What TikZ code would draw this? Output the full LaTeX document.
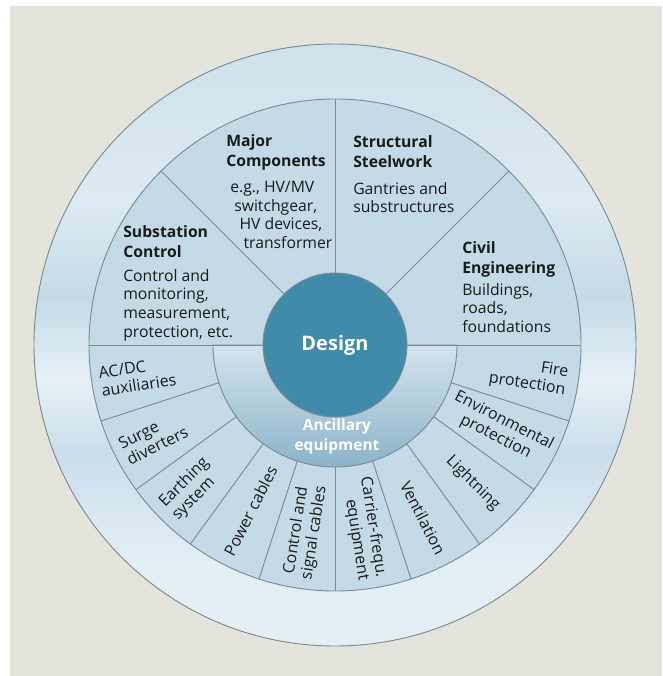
\documentclass[tikz,border=0pt]{standalone}
\usepackage{fontspec}
\setmainfont{Open Sans}
\usetikzlibrary{positioning}

\definecolor{bggray}{HTML}{E4E3DC}
\definecolor{rimgray}{HTML}{7E8B93}
\definecolor{inkblack}{HTML}{1A1A1A}
\definecolor{designblue}{HTML}{408BAA}
\definecolor{secdark}{HTML}{C4DBE7}
\definecolor{seclight}{HTML}{E6F0F6}
\definecolor{ancA}{HTML}{D4E4ED}
\definecolor{ancB}{HTML}{A2C3D5}
\definecolor{ancC}{HTML}{8BB3C9}
\definecolor{ringA}{HTML}{E4EFF5}
\definecolor{ringB}{HTML}{E3EEF5}
\definecolor{ringC}{HTML}{C9DEEA}
\definecolor{ringD}{HTML}{E6F0F6}
\definecolor{ringE}{HTML}{C4DBE7}
\definecolor{ringF}{HTML}{DDEAF2}
\definecolor{ringG}{HTML}{CFE1EB}

% outer ring: banded vertical shading (path spans 25bp..75bp)
\pgfdeclareverticalshading{outershade}{100bp}{%
  color(0bp)=(ringA); color(25bp)=(ringA); color(32bp)=(ringB);
  color(41bp)=(ringC); color(47bp)=(ringD); color(54bp)=(ringE);
  color(62bp)=(ringF); color(75bp)=(ringG); color(100bp)=(ringG)}

\newcommand{\hdfont}{\fontsize{11.8}{15}\selectfont\bfseries}
\newcommand{\bdfont}{\fontsize{11.8}{14}\selectfont}
\newcommand{\sgfont}{\fontsize{12}{13.6}\selectfont}

\begin{document}
\begin{tikzpicture}[
  x=0.75pt, y=0.75pt,
  rim/.style={draw=rimgray, line width=0.7pt},
  head/.style={anchor=north west, inner sep=0pt, align=left, font=\hdfont, text=inkblack},
  body/.style={anchor=north west, inner sep=0pt, align=left, font=\bdfont, text=inkblack},
  seglabel/.style={inner sep=0pt, font=\sgfont, text=inkblack}
]
\useasboundingbox (-335,-331) rectangle (327,345);
\fill[white] (-335,-331) rectangle (327,345);
\fill[bggray] (-325,-331) rectangle (327,339);

% rings
\shadedraw[rim, shading=outershade] (0,0) circle (301);
\draw[rim, top color=secdark, middle color=seclight, bottom color=secdark] (0,0) circle (246);
\draw[rim, top color=ancA, middle color=ancB, bottom color=ancC]
  (-122,0) arc[start angle=180, end angle=360, radius=122] -- cycle;

% upper sectors
\draw[rim] (0:72) -- (0:246);
\draw[rim] (45:72) -- (45:246);
\draw[rim] (90:72) -- (90:246);
\draw[rim] (135:72) -- (135:246);
\draw[rim] (180:72) -- (180:246);

% lower sectors
\draw[rim] (198:122) -- (198:246);
\draw[rim] (216:122) -- (216:246);
\draw[rim] (234:122) -- (234:246);
\draw[rim] (252:122) -- (252:246);
\draw[rim] (270:122) -- (270:246);
\draw[rim] (288:122) -- (288:246);
\draw[rim] (306:122) -- (306:246);
\draw[rim] (324:122) -- (324:246);
\draw[rim] (342:122) -- (342:246);

% centre
\node[circle, rim, fill=designblue, minimum size=108pt, inner sep=0pt, text=white,
  font=\fontsize{15}{18}\selectfont\bfseries] (design) at (0,0) {Design};
\node[align=center, inner sep=0pt, text=white, font=\fontsize{11.6}{15}\selectfont\bfseries]
  (ancillary) at (2,-91) {Ancillary\\equipment};

% upper texts
\node[head] (majorhead) at (-109,211) {Major\\Components};
\node[body] (majorbody) at (-105,164) {e.g., HV/MV\\\hspace*{3pt}switchgear,\\\hspace*{7pt}HV devices,\\\hspace*{10pt}transformer};
\node[head] (subhead) at (-212,120) {Substation\\Control};
\node[body] (subbody) at (-212,76) {Control and\\monitoring,\\measurement,\\protection, etc.};
\node[head] (structhead) at (18,210) {Structural\\Steelwork};
\node[body] (structbody) at (18,163) {Gantries and\\substructures};
\node[head] (civilhead) at (127,104) {Civil\\Engineering};
\node[body] (civilbody) at (127,62) {Buildings,\\roads,\\foundations};

% lower texts
\node[seglabel, align=left, rotate=9] (acdc) at (189:200) {AC/DC\\auxiliaries};
\node[seglabel, align=left, rotate=27] (surge) at (207:204) {Surge\\diverters};
\node[seglabel, align=left, rotate=45] (earthing) at (225:204) {Earthing\\system};
\node[seglabel, rotate=63] (power) at (243:186) {Power cables};
\node[seglabel, align=center, rotate=81] (control) at (261:189) {Control and\\signal cables};
\node[seglabel, align=right, rotate=-81] (carrier) at (279:186) {Carrier-frequ.\\equipment};
\node[seglabel, rotate=-63] (ventilation) at (297:194) {Ventilation};
\node[seglabel, rotate=-45] (lightning) at (315:195) {Lightning};
\node[seglabel, align=center, rotate=-27] (environ) at (333:185) {Environmental\\protection};
\node[seglabel, align=right, rotate=-9] (fire) at (351:196) {Fire\\protection};
\end{tikzpicture}
\end{document}
